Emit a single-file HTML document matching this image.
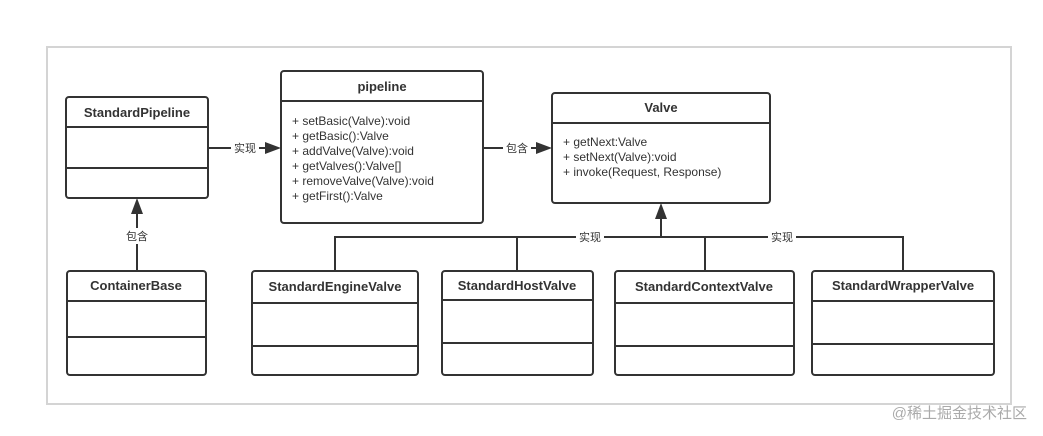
<!DOCTYPE html>
<html><head><meta charset="utf-8"><style>
html,body{margin:0;padding:0;background:#fff;}
svg{display:block}
text{font-family:"Liberation Sans","Noto Sans CJK SC",sans-serif;fill:#333}
.t{font-weight:bold;font-size:13px;text-anchor:middle}
.m{font-size:12px}
.l{font-size:11px;text-anchor:middle}
</style></head><body>
<svg width="1043" height="436" viewBox="0 0 1043 436">
<rect x="47" y="47" width="964" height="357" fill="#fff" stroke="#d4d4d4" stroke-width="2"/>
<g fill="#fff" stroke="#333" stroke-width="2">
<rect x="66" y="97" width="142" height="101" rx="3"/>
<rect x="281" y="71" width="202" height="152" rx="3"/>
<rect x="552" y="93" width="218" height="110" rx="3"/>
<rect x="67" y="271" width="139" height="104" rx="3"/>
<rect x="252" y="271" width="166" height="104" rx="3"/>
<rect x="442" y="271" width="151" height="104" rx="3"/>
<rect x="615" y="271" width="179" height="104" rx="3"/>
<rect x="812" y="271" width="182" height="104" rx="3"/>
</g>
<g stroke="#333" stroke-width="2" fill="none">
<path d="M66 127H208M66 168H208"/>
<path d="M281 101H483"/>
<path d="M552 123H770"/>
<path d="M67 301H206M67 337H206"/>
<path d="M252 303H418M252 346H418"/>
<path d="M442 300H593M442 343H593"/>
<path d="M615 303H794M615 346H794"/>
<path d="M812 301H994M812 344H994"/>
<path d="M208 148H268M483 148H538"/>
<path d="M137 271V212"/>
<path d="M335 271V237H903V271M517 237V271M705 237V271M661 237V216"/>
</g>
<g fill="#333">
<polygon points="281,148 265,142 265,154"/>
<polygon points="552,148 536,142 536,154"/>
<polygon points="137,198 131,214 143,214"/>
<polygon points="661,203 655,219 667,219"/>
</g>
<g fill="#fff">
<rect x="231" y="140" width="28" height="16"/>
<rect x="503" y="140" width="28" height="16"/>
<rect x="123" y="228" width="28" height="16"/>
<rect x="576" y="229" width="28" height="16"/>
<rect x="768" y="229" width="28" height="16"/>
</g>
<text class="l" x="245" y="152">实现</text>
<text class="l" x="517" y="152">包含</text>
<text class="l" x="137" y="240">包含</text>
<text class="l" x="590" y="241">实现</text>
<text class="l" x="782" y="241">实现</text>
<text class="t" x="137" y="117">StandardPipeline</text>
<text class="t" x="382" y="91">pipeline</text>
<text class="t" x="661" y="112">Valve</text>
<text class="t" x="136" y="290">ContainerBase</text>
<text class="t" x="335" y="291">StandardEngineValve</text>
<text class="t" x="517" y="290">StandardHostValve</text>
<text class="t" x="704" y="291">StandardContextValve</text>
<text class="t" x="903" y="290">StandardWrapperValve</text>
<text class="m" x="292" y="125">+ setBasic(Valve):void</text>
<text class="m" x="292" y="140">+ getBasic():Valve</text>
<text class="m" x="292" y="155">+ addValve(Valve):void</text>
<text class="m" x="292" y="170">+ getValves():Valve[]</text>
<text class="m" x="292" y="185">+ removeValve(Valve):void</text>
<text class="m" x="292" y="200">+ getFirst():Valve</text>
<text class="m" x="563" y="146">+ getNext:Valve</text>
<text class="m" x="563" y="161">+ setNext(Valve):void</text>
<text class="m" x="563" y="176">+ invoke(Request, Response)</text>
<text x="1027" y="418" style="font-size:15px;fill:#aaa;text-anchor:end">@稀土掘金技术社区</text>
</svg>
</body></html>
